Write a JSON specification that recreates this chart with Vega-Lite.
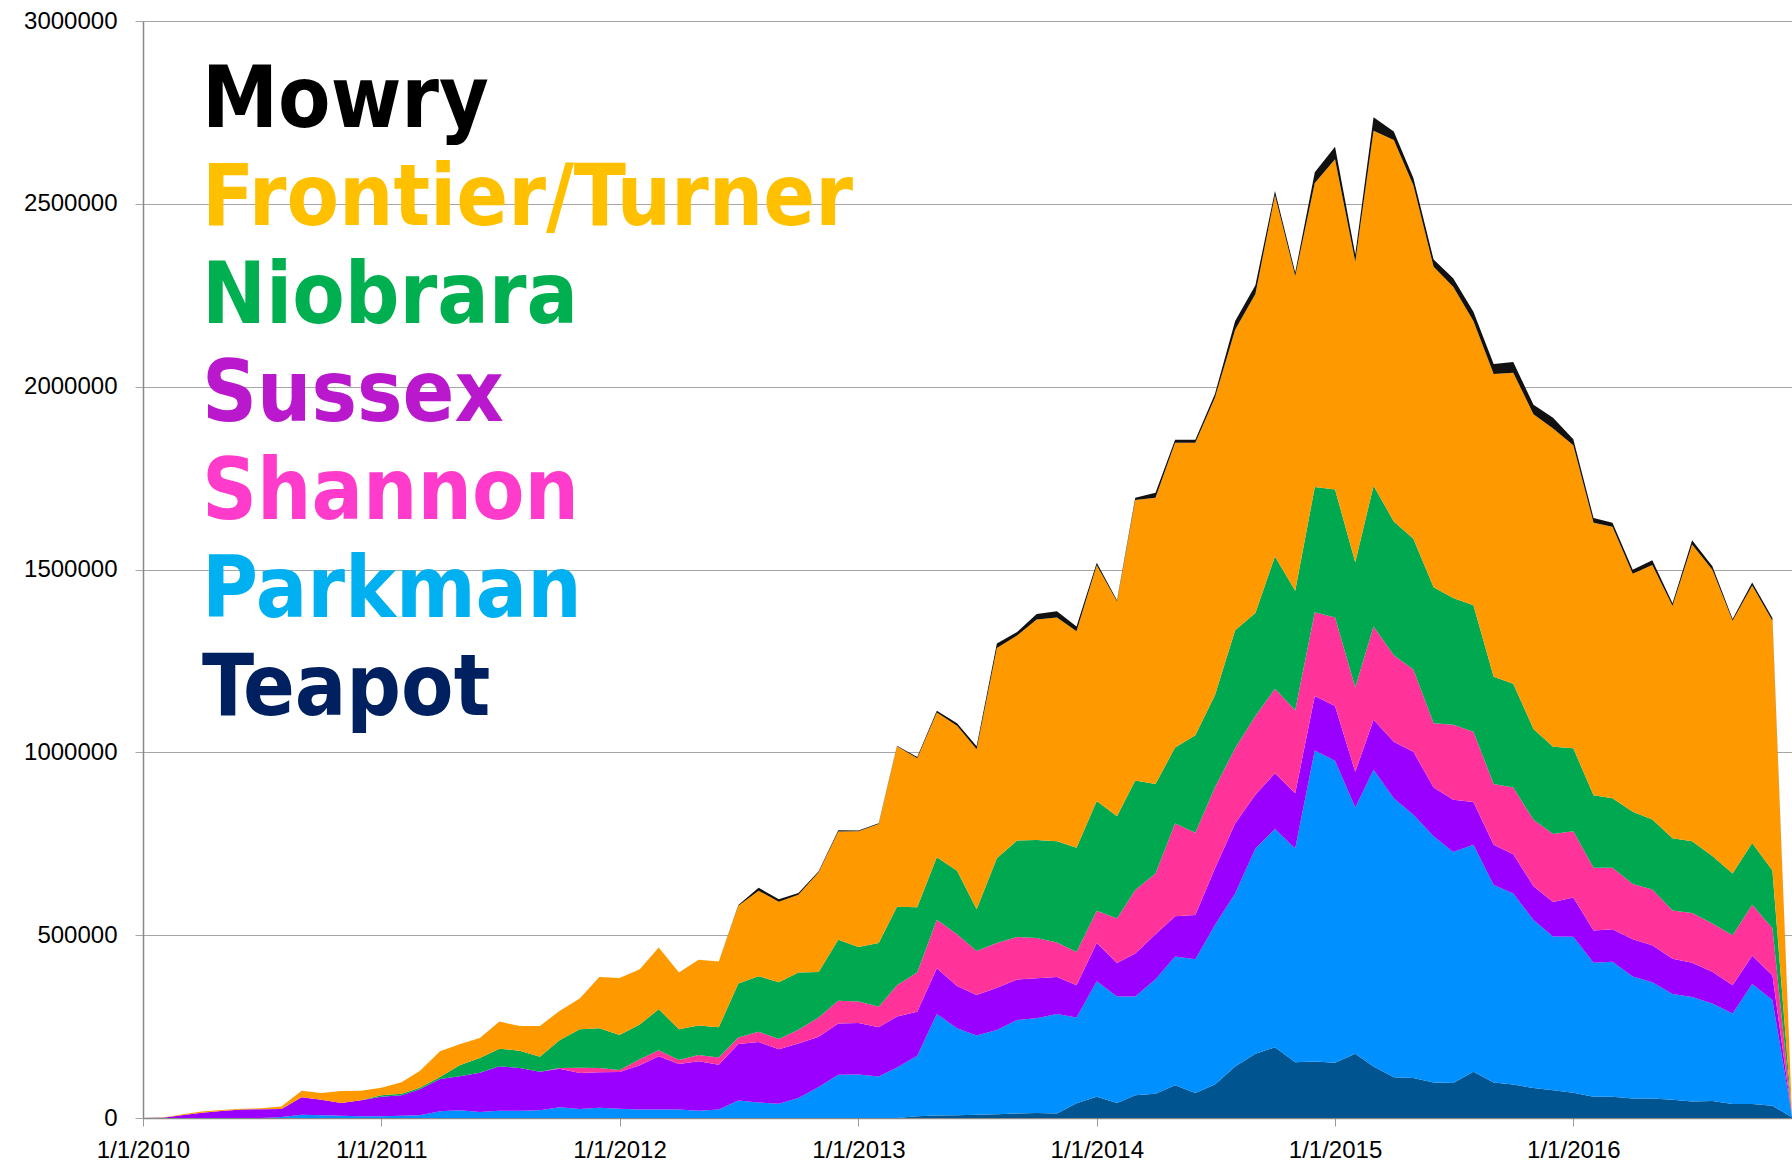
{
  "$schema": "https://vega.github.io/schema/vega-lite/v6.json",
  "width": 1649,
  "height": 1097,
  "autosize": {"type": "none"},
  "padding": {"left": 143, "top": 21, "right": 0, "bottom": 47},
  "background": "white",
  "config": {"view": {"stroke": null}},
  "data": {"values": [
    {"date": "2010-01-01", "Teapot": 0, "Parkman": 0, "Sussex": 0, "Shannon": 0, "Niobrara": 0, "Frontier/Turner": 0, "Mowry": 0},
    {"date": "2010-02-01", "Teapot": 0, "Parkman": 0, "Sussex": 1000, "Shannon": 0, "Niobrara": 0, "Frontier/Turner": 500, "Mowry": 0},
    {"date": "2010-03-01", "Teapot": 0, "Parkman": 0, "Sussex": 7300, "Shannon": 0, "Niobrara": 0, "Frontier/Turner": 2500, "Mowry": 0},
    {"date": "2010-04-01", "Teapot": 0, "Parkman": 0, "Sussex": 14600, "Shannon": 0, "Niobrara": 0, "Frontier/Turner": 3500, "Mowry": 0},
    {"date": "2010-05-01", "Teapot": 0, "Parkman": 0, "Sussex": 19000, "Shannon": 0, "Niobrara": 0, "Frontier/Turner": 3000, "Mowry": 0},
    {"date": "2010-06-01", "Teapot": 0, "Parkman": 0, "Sussex": 23000, "Shannon": 0, "Niobrara": 0, "Frontier/Turner": 2500, "Mowry": 0},
    {"date": "2010-07-01", "Teapot": 0, "Parkman": 0, "Sussex": 24000, "Shannon": 0, "Niobrara": 0, "Frontier/Turner": 2500, "Mowry": 0},
    {"date": "2010-08-01", "Teapot": 0, "Parkman": 2700, "Sussex": 22000, "Shannon": 0, "Niobrara": 0, "Frontier/Turner": 7000, "Mowry": 0},
    {"date": "2010-09-01", "Teapot": 0, "Parkman": 9100, "Sussex": 47400, "Shannon": 0, "Niobrara": 0, "Frontier/Turner": 18300, "Mowry": 0},
    {"date": "2010-10-01", "Teapot": 0, "Parkman": 7300, "Sussex": 42900, "Shannon": 0, "Niobrara": 0, "Frontier/Turner": 18200, "Mowry": 0},
    {"date": "2010-11-01", "Teapot": 0, "Parkman": 6400, "Sussex": 34600, "Shannon": 0, "Niobrara": 0, "Frontier/Turner": 32900, "Mowry": 0},
    {"date": "2010-12-01", "Teapot": 0, "Parkman": 4600, "Sussex": 43700, "Shannon": 0, "Niobrara": 0, "Frontier/Turner": 26500, "Mowry": 0},
    {"date": "2011-01-01", "Teapot": 0, "Parkman": 4600, "Sussex": 53800, "Shannon": 0, "Niobrara": 3600, "Frontier/Turner": 21000, "Mowry": 0},
    {"date": "2011-02-01", "Teapot": 0, "Parkman": 6400, "Sussex": 55600, "Shannon": 0, "Niobrara": 4600, "Frontier/Turner": 31000, "Mowry": 0},
    {"date": "2011-03-01", "Teapot": 0, "Parkman": 7300, "Sussex": 71100, "Shannon": 0, "Niobrara": 4600, "Frontier/Turner": 45600, "Mowry": 0},
    {"date": "2011-04-01", "Teapot": 0, "Parkman": 18200, "Sussex": 88500, "Shannon": 0, "Niobrara": 5500, "Frontier/Turner": 70200, "Mowry": 0},
    {"date": "2011-05-01", "Teapot": 0, "Parkman": 21000, "Sussex": 93000, "Shannon": 0, "Niobrara": 30100, "Frontier/Turner": 57500, "Mowry": 0},
    {"date": "2011-06-01", "Teapot": 0, "Parkman": 16400, "Sussex": 107600, "Shannon": 0, "Niobrara": 40200, "Frontier/Turner": 54700, "Mowry": 0},
    {"date": "2011-07-01", "Teapot": 0, "Parkman": 20100, "Sussex": 121300, "Shannon": 0, "Niobrara": 48300, "Frontier/Turner": 73900, "Mowry": 0},
    {"date": "2011-08-01", "Teapot": 0, "Parkman": 20100, "Sussex": 116700, "Shannon": 0, "Niobrara": 47400, "Frontier/Turner": 67500, "Mowry": 0},
    {"date": "2011-09-01", "Teapot": 0, "Parkman": 21000, "Sussex": 105800, "Shannon": 0, "Niobrara": 41000, "Frontier/Turner": 83900, "Mowry": 0},
    {"date": "2011-10-01", "Teapot": 0, "Parkman": 29200, "Sussex": 105800, "Shannon": 1800, "Niobrara": 75700, "Frontier/Turner": 80300, "Mowry": 0},
    {"date": "2011-11-01", "Teapot": 0, "Parkman": 24600, "Sussex": 98500, "Shannon": 14600, "Niobrara": 104900, "Frontier/Turner": 83900, "Mowry": 0},
    {"date": "2011-12-01", "Teapot": 0, "Parkman": 28300, "Sussex": 96600, "Shannon": 11900, "Niobrara": 108500, "Frontier/Turner": 140500, "Mowry": 0},
    {"date": "2012-01-01", "Teapot": 0, "Parkman": 25000, "Sussex": 101000, "Shannon": 5000, "Niobrara": 96000, "Frontier/Turner": 156000, "Mowry": 0},
    {"date": "2012-02-01", "Teapot": 0, "Parkman": 23500, "Sussex": 120700, "Shannon": 16800, "Niobrara": 95000, "Frontier/Turner": 151000, "Mowry": 0},
    {"date": "2012-03-01", "Teapot": 0, "Parkman": 23500, "Sussex": 145300, "Shannon": 16800, "Niobrara": 111800, "Frontier/Turner": 168800, "Mowry": 0},
    {"date": "2012-04-01", "Teapot": 0, "Parkman": 23500, "Sussex": 124100, "Shannon": 11200, "Niobrara": 83800, "Frontier/Turner": 155400, "Mowry": 0},
    {"date": "2012-05-01", "Teapot": 0, "Parkman": 20100, "Sussex": 135300, "Shannon": 16800, "Niobrara": 80500, "Frontier/Turner": 180000, "Mowry": 0},
    {"date": "2012-06-01", "Teapot": 0, "Parkman": 23500, "Sussex": 121800, "Shannon": 20200, "Niobrara": 82700, "Frontier/Turner": 180000, "Mowry": 0},
    {"date": "2012-07-01", "Teapot": 0, "Parkman": 48100, "Sussex": 154300, "Shannon": 17800, "Niobrara": 147600, "Frontier/Turner": 212400, "Mowry": 2000},
    {"date": "2012-08-01", "Teapot": 0, "Parkman": 42500, "Sussex": 165500, "Shannon": 27900, "Niobrara": 152000, "Frontier/Turner": 233700, "Mowry": 8000},
    {"date": "2012-09-01", "Teapot": 0, "Parkman": 39100, "Sussex": 148700, "Shannon": 28000, "Niobrara": 155400, "Frontier/Turner": 220200, "Mowry": 7000},
    {"date": "2012-10-01", "Teapot": 0, "Parkman": 54800, "Sussex": 148700, "Shannon": 38000, "Niobrara": 156500, "Frontier/Turner": 212400, "Mowry": 5000},
    {"date": "2012-11-01", "Teapot": 0, "Parkman": 85000, "Sussex": 137500, "Shannon": 52500, "Niobrara": 124100, "Frontier/Turner": 272800, "Mowry": 3000},
    {"date": "2012-12-01", "Teapot": 0, "Parkman": 118500, "Sussex": 139800, "Shannon": 62600, "Niobrara": 166600, "Frontier/Turner": 296200, "Mowry": 3000},
    {"date": "2013-01-01", "Teapot": 0, "Parkman": 119000, "Sussex": 140900, "Shannon": 59000, "Niobrara": 149000, "Frontier/Turner": 316000, "Mowry": 2500},
    {"date": "2013-02-01", "Teapot": 0, "Parkman": 113500, "Sussex": 134900, "Shannon": 55800, "Niobrara": 174100, "Frontier/Turner": 325700, "Mowry": 2000},
    {"date": "2013-03-01", "Teapot": 0, "Parkman": 137900, "Sussex": 139900, "Shannon": 85100, "Niobrara": 215100, "Frontier/Turner": 438300, "Mowry": 2000},
    {"date": "2013-04-01", "Teapot": 5000, "Parkman": 165200, "Sussex": 120300, "Shannon": 107600, "Niobrara": 178000, "Frontier/Turner": 407900, "Mowry": 2900},
    {"date": "2013-05-01", "Teapot": 6800, "Parkman": 277800, "Sussex": 125200, "Shannon": 132100, "Niobrara": 171100, "Frontier/Turner": 396200, "Mowry": 4800},
    {"date": "2013-06-01", "Teapot": 7500, "Parkman": 238000, "Sussex": 115400, "Shannon": 141800, "Niobrara": 173200, "Frontier/Turner": 397100, "Mowry": 6800},
    {"date": "2013-07-01", "Teapot": 8800, "Parkman": 217100, "Sussex": 110600, "Shannon": 120300, "Niobrara": 114400, "Frontier/Turner": 437200, "Mowry": 7900},
    {"date": "2013-08-01", "Teapot": 10000, "Parkman": 230600, "Sussex": 115400, "Shannon": 122300, "Niobrara": 231800, "Frontier/Turner": 575100, "Mowry": 12700},
    {"date": "2013-09-01", "Teapot": 12000, "Parkman": 256000, "Sussex": 110500, "Shannon": 116400, "Niobrara": 264100, "Frontier/Turner": 560500, "Mowry": 9700},
    {"date": "2013-10-01", "Teapot": 14000, "Parkman": 258900, "Sussex": 109500, "Shannon": 109600, "Niobrara": 268000, "Frontier/Turner": 603500, "Mowry": 14700},
    {"date": "2013-11-01", "Teapot": 12000, "Parkman": 272600, "Sussex": 100800, "Shannon": 94800, "Niobrara": 276800, "Frontier/Turner": 611400, "Mowry": 17600},
    {"date": "2013-12-01", "Teapot": 40100, "Parkman": 234700, "Sussex": 88100, "Shannon": 90900, "Niobrara": 285600, "Frontier/Turner": 591800, "Mowry": 12700},
    {"date": "2014-01-01", "Teapot": 58000, "Parkman": 316000, "Sussex": 104600, "Shannon": 88100, "Niobrara": 300000, "Frontier/Turner": 645000, "Mowry": 6900},
    {"date": "2014-02-01", "Teapot": 40700, "Parkman": 291500, "Sussex": 92000, "Shannon": 121300, "Niobrara": 279800, "Frontier/Turner": 587000, "Mowry": 3900},
    {"date": "2014-03-01", "Teapot": 62200, "Parkman": 270000, "Sussex": 117400, "Shannon": 174200, "Niobrara": 299300, "Frontier/Turner": 767000, "Mowry": 5900},
    {"date": "2014-04-01", "Teapot": 66100, "Parkman": 313100, "Sussex": 123300, "Shannon": 166300, "Niobrara": 244500, "Frontier/Turner": 782700, "Mowry": 13700},
    {"date": "2014-05-01", "Teapot": 89600, "Parkman": 352200, "Sussex": 109600, "Shannon": 254300, "Niobrara": 207400, "Frontier/Turner": 833500, "Mowry": 7900},
    {"date": "2014-06-01", "Teapot": 68100, "Parkman": 365900, "Sussex": 121300, "Shannon": 225000, "Niobrara": 266100, "Frontier/Turner": 800200, "Mowry": 7900},
    {"date": "2014-07-01", "Teapot": 91600, "Parkman": 436300, "Sussex": 154600, "Shannon": 221100, "Niobrara": 252400, "Frontier/Turner": 813900, "Mowry": 9800},
    {"date": "2014-08-01", "Teapot": 140500, "Parkman": 473500, "Sussex": 191700, "Shannon": 205500, "Niobrara": 322800, "Frontier/Turner": 821800, "Mowry": 23500},
    {"date": "2014-09-01", "Teapot": 175700, "Parkman": 561600, "Sussex": 146700, "Shannon": 215200, "Niobrara": 281800, "Frontier/Turner": 872600, "Mowry": 23500},
    {"date": "2014-10-01", "Teapot": 193300, "Parkman": 596800, "Sussex": 152600, "Shannon": 230900, "Niobrara": 361900, "Frontier/Turner": 988100, "Mowry": 11800},
    {"date": "2014-11-01", "Teapot": 152200, "Parkman": 585100, "Sussex": 150600, "Shannon": 227000, "Niobrara": 326700, "Frontier/Turner": 860900, "Mowry": 9800},
    {"date": "2014-12-01", "Teapot": 154200, "Parkman": 851100, "Sussex": 148700, "Shannon": 228900, "Niobrara": 342400, "Frontier/Turner": 831600, "Mowry": 29300},
    {"date": "2015-01-01", "Teapot": 151000, "Parkman": 826000, "Sussex": 150000, "Shannon": 242000, "Niobrara": 350000, "Frontier/Turner": 903000, "Mowry": 34000},
    {"date": "2015-02-01", "Teapot": 175700, "Parkman": 673100, "Sussex": 97800, "Shannon": 230900, "Niobrara": 342400, "Frontier/Turner": 821800, "Mowry": 19500},
    {"date": "2015-03-01", "Teapot": 140500, "Parkman": 812000, "Sussex": 136900, "Shannon": 254400, "Niobrara": 385500, "Frontier/Turner": 970400, "Mowry": 37200},
    {"date": "2015-04-01", "Teapot": 111100, "Parkman": 763100, "Sussex": 154600, "Shannon": 236700, "Niobrara": 365900, "Frontier/Turner": 1042900, "Mowry": 23500},
    {"date": "2015-05-01", "Teapot": 109200, "Parkman": 720000, "Sussex": 172200, "Shannon": 225000, "Niobrara": 358000, "Frontier/Turner": 966600, "Mowry": 19600},
    {"date": "2015-06-01", "Teapot": 97400, "Parkman": 673100, "Sussex": 133100, "Shannon": 176100, "Niobrara": 371700, "Frontier/Turner": 876500, "Mowry": 19600},
    {"date": "2015-07-01", "Teapot": 95500, "Parkman": 632000, "Sussex": 142800, "Shannon": 205400, "Niobrara": 346400, "Frontier/Turner": 851100, "Mowry": 23400},
    {"date": "2015-08-01", "Teapot": 126800, "Parkman": 620200, "Sussex": 117400, "Shannon": 191800, "Niobrara": 346300, "Frontier/Turner": 776800, "Mowry": 25400},
    {"date": "2015-09-01", "Teapot": 97400, "Parkman": 540100, "Sussex": 109500, "Shannon": 166300, "Niobrara": 293500, "Frontier/Turner": 827700, "Mowry": 27400},
    {"date": "2015-10-01", "Teapot": 91600, "Parkman": 522400, "Sussex": 107600, "Shannon": 182000, "Niobrara": 283700, "Frontier/Turner": 851100, "Mowry": 29300},
    {"date": "2015-11-01", "Teapot": 81800, "Parkman": 459800, "Sussex": 91900, "Shannon": 182000, "Niobrara": 248500, "Frontier/Turner": 860900, "Mowry": 25400},
    {"date": "2015-12-01", "Teapot": 75900, "Parkman": 420700, "Sussex": 93900, "Shannon": 185900, "Niobrara": 238700, "Frontier/Turner": 870700, "Mowry": 29300},
    {"date": "2016-01-01", "Teapot": 69000, "Parkman": 427000, "Sussex": 107000, "Shannon": 181000, "Niobrara": 227000, "Frontier/Turner": 829000, "Mowry": 16000},
    {"date": "2016-02-01", "Teapot": 57900, "Parkman": 366400, "Sussex": 88400, "Shannon": 172000, "Niobrara": 197700, "Frontier/Turner": 745700, "Mowry": 12900},
    {"date": "2016-03-01", "Teapot": 57900, "Parkman": 369600, "Sussex": 88400, "Shannon": 168800, "Niobrara": 189600, "Frontier/Turner": 742500, "Mowry": 11300},
    {"date": "2016-04-01", "Teapot": 53000, "Parkman": 334300, "Sussex": 101300, "Shannon": 151100, "Niobrara": 197600, "Frontier/Turner": 651000, "Mowry": 11200},
    {"date": "2016-05-01", "Teapot": 53000, "Parkman": 318300, "Sussex": 101200, "Shannon": 152700, "Niobrara": 191300, "Frontier/Turner": 695900, "Mowry": 12800},
    {"date": "2016-06-01", "Teapot": 49800, "Parkman": 289300, "Sussex": 96400, "Shannon": 131800, "Niobrara": 197700, "Frontier/Turner": 634900, "Mowry": 8000},
    {"date": "2016-07-01", "Teapot": 45000, "Parkman": 286100, "Sussex": 93200, "Shannon": 136600, "Niobrara": 196100, "Frontier/Turner": 811600, "Mowry": 11300},
    {"date": "2016-08-01", "Teapot": 46600, "Parkman": 266800, "Sussex": 86800, "Shannon": 131800, "Niobrara": 184800, "Frontier/Turner": 782700, "Mowry": 9600},
    {"date": "2016-09-01", "Teapot": 38600, "Parkman": 247500, "Sussex": 77100, "Shannon": 136600, "Niobrara": 168800, "Frontier/Turner": 691100, "Mowry": 4800},
    {"date": "2016-10-01", "Teapot": 38600, "Parkman": 327800, "Sussex": 77200, "Shannon": 139800, "Niobrara": 168800, "Frontier/Turner": 703900, "Mowry": 8100},
    {"date": "2016-11-01", "Teapot": 33800, "Parkman": 289200, "Sussex": 67500, "Shannon": 128600, "Niobrara": 157500, "Frontier/Turner": 683100, "Mowry": 8000},
    {"date": "2016-12-01", "Teapot": 2000, "Parkman": 3000, "Sussex": 0, "Shannon": 0, "Niobrara": 0, "Frontier/Turner": 0, "Mowry": 0}
  ]},
  "transform": [
    {"fold": ["Teapot", "Parkman", "Sussex", "Shannon", "Niobrara", "Frontier/Turner", "Mowry"], "as": ["series", "production"]},
    {"lookup": "series", "from": {"data": {"values": [
      {"series": "Teapot", "rank": 1},
      {"series": "Parkman", "rank": 2},
      {"series": "Sussex", "rank": 3},
      {"series": "Shannon", "rank": 4},
      {"series": "Niobrara", "rank": 5},
      {"series": "Frontier/Turner", "rank": 6},
      {"series": "Mowry", "rank": 7}
    ]}, "key": "series", "fields": ["rank"]}}
  ],
  "mark": {"type": "area", "interpolate": "linear"},
  "encoding": {
    "x": {
      "field": "date",
      "type": "temporal",
      "scale": {"type": "utc", "domain": [{"year": 2010, "month": 1, "date": 1, "utc": true}, {"year": 2016, "month": 12, "date": 1, "utc": true}]},
      "axis": {
        "title": null,
        "grid": false,
        "tickCount": {"interval": "year", "step": 1},
        "labelExpr": "utcFormat(datum.value, '%-m/%-d/%Y')",
        "labelFont": "Liberation Sans",
        "labelFontSize": 24,
        "labelColor": "#000000",
        "labelPadding": 12,
        "labelFlush": false,
        "labelOverlap": false,
        "tickSize": 8,
        "tickColor": "#999999",
        "tickWidth": 1,
        "domainColor": "#888888",
        "domainWidth": 1.5
      }
    },
    "y": {
      "field": "production",
      "type": "quantitative",
      "stack": "zero",
      "scale": {"domain": [0, 3000000], "nice": false},
      "axis": {
        "title": null,
        "values": [0, 500000, 1000000, 1500000, 2000000, 2500000, 3000000],
        "format": "d",
        "grid": true,
        "gridColor": "#A6A6A6",
        "gridWidth": 1,
        "labelFont": "Liberation Sans",
        "labelFontSize": 24,
        "labelColor": "#000000",
        "labelPadding": 18,
        "tickSize": 8,
        "tickColor": "#A6A6A6",
        "domainColor": "#888888",
        "domainWidth": 1.5
      }
    },
    "color": {
      "field": "series",
      "type": "nominal",
      "scale": {
        "domain": ["Mowry", "Frontier/Turner", "Niobrara", "Sussex", "Shannon", "Parkman", "Teapot"],
        "range": ["#111111", "#FF9900", "#00A84F", "#9900FF", "#FF3399", "#0090FF", "#00548F"]
      },
      "legend": {
        "orient": "none",
        "legendX": -26,
        "legendY": 37,
        "title": null,
        "padding": 0,
        "symbolSize": 0,
        "symbolStrokeWidth": 0,
        "symbolOpacity": 0,
        "labelOffset": 0,
        "labelFont": "DejaVu Sans Condensed, DejaVu Sans",
        "labelFontWeight": "bold",
        "labelFontSize": 85,
        "labelLimit": 2000,
        "rowPadding": 12,
        "encode": {
          "labels": {
            "update": {
              "fill": {"signal": "datum.value === 'Mowry' ? '#000000' : datum.value === 'Frontier/Turner' ? '#FFC000' : datum.value === 'Niobrara' ? '#00B050' : datum.value === 'Sussex' ? '#B918CC' : datum.value === 'Shannon' ? '#FF3BCC' : datum.value === 'Parkman' ? '#00B0F0' : '#002060'"}
            }
          }
        }
      }
    },
    "order": {"field": "rank", "type": "quantitative", "sort": "ascending"}
  }
}
